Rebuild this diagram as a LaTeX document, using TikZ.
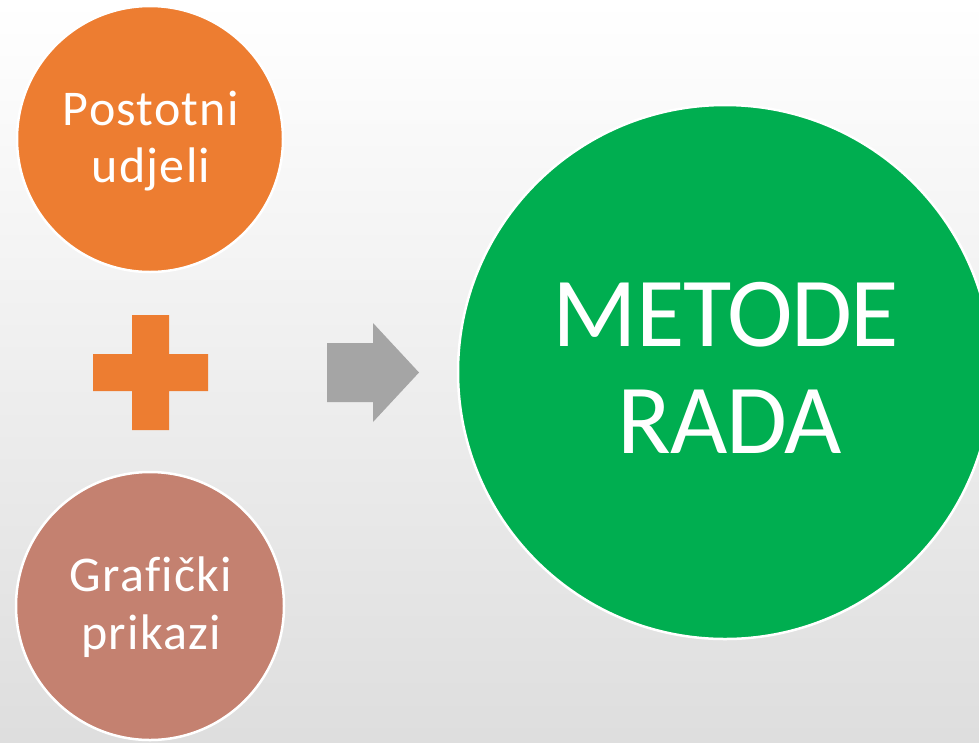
\documentclass[tikz,border=0pt]{standalone}
\usepackage{fontspec}
\setmainfont{Carlito}
\newfontfamily\smallfnt[LetterSpace=2.5,Ligatures=CommonOff]{Carlito}
\newfontfamily\bigfnt[LetterSpace=-1.4,Ligatures=CommonOff]{Carlito}
\definecolor{orangeC}{HTML}{ED7D31}
\definecolor{brownC}{HTML}{C48170}
\definecolor{greenC}{HTML}{00AE50}
\definecolor{grayC}{HTML}{A5A5A5}
\begin{document}
\begin{tikzpicture}[x=1pt,y=-1pt,
  circ/.style={circle, draw=white, line width=2.5pt, inner sep=0pt},
  small/.style={text=white, inner sep=0pt, anchor=base, font=\smallfnt\fontsize{50}{59}\selectfont},
  big/.style={text=white, inner sep=0pt, anchor=base, font=\bigfnt\fontsize{99}{108}\selectfont}]
\useasboundingbox (0,0) rectangle (979,742);
\shade[top color=white, bottom color=black!13] (0,0) rectangle (979,742);
\clip (0,0) rectangle (979,742);
% circles
\node[circ, fill=orangeC, minimum size=266pt] (pu) at (150,139) {};
\node[circ, fill=brownC, minimum size=268pt] (gp) at (150,606) {};
\node[circ, fill=greenC, minimum size=534pt] (mr) at (725,372) {};
% texts
\node[small] (pu1) at (151,125) {Postotni};
\node[small] (pu2) at (151,182) {udjeli};
\node[small] (gp1) at (151,591) {Grafički};
\node[small] (gp2) at (151,649) {prikazi};
\node[big] (mr1) at (726,346) {METODE};
\node[big] (mr2) at (729.5,453) {RADA};
% plus
\fill[orangeC] (132,315) -- (169,315) -- (169,354) -- (208,354) -- (208,391) -- (169,391) -- (169,430) -- (132,430) -- (132,391) -- (93,391) -- (93,354) -- (132,354) -- cycle;
% arrow
\fill[grayC] (327,343) -- (373,343) -- (373,323) -- (419,372.5) -- (373,422) -- (373,402) -- (327,402) -- cycle;
\end{tikzpicture}
\end{document}
